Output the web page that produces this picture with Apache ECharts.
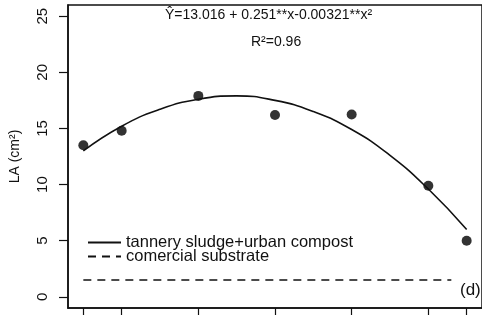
<!DOCTYPE html>
<html>
<head>
<meta charset="utf-8">
<script src="https://cdn.jsdelivr.net/npm/echarts@6/dist/echarts.min.js"></script>
<style>
  html, body { margin: 0; padding: 0; background: #fff; }
  #chart { width: 482px; height: 315px; }
</style>
</head>
<body>
<div id="chart"></div>
<script>
// observed leaf area per dose
const doses = [0, 10, 30, 50, 70, 90, 100];
const leafArea = [13.5, 14.8, 17.9, 16.2, 16.25, 9.9, 5.0];

// fitted curve
const curveX = [0, 10, 20, 30, 40, 50, 60, 70, 80, 90, 100];
const curveY = [13.0, 15.2, 16.7, 17.6, 17.9, 17.5, 16.5, 14.9, 12.6, 9.6, 6.0];

// commercial substrate reference level
const substrateX = [0, 96];
const substrateY = [1.5, 1.5];

const yTicks = [0, 5, 10, 15, 20, 25];

const font = '"Liberation Sans", Arial, sans-serif';
const chart = echarts.init(document.getElementById('chart'));

chart.setOption({
  animation: false,
  textStyle: { fontFamily: font },
  grid: {
    left: 65,
    right: -7,
    top: 5,
    bottom: 7,
    show: true,
    borderColor: '#111',
    borderWidth: 1.5,
  },
  legend: {
    data: ['tannery sludge+urban compost', 'comercial substrate'],
    orient: 'vertical',
    left: 82,
    top: 229,
    itemWidth: 33,
    itemHeight: 10,
    itemGap: -3,
    itemStyle: { opacity: 0 },
    textStyle: { fontFamily: font, fontSize: 16.5, color: '#111' },
  },
  xAxis: {
    type: 'value',
    min: -4,
    max: 104,
    axisLine: { show: true, onZero: false, lineStyle: { color: '#111', width: 1.5 } },
    splitLine: { show: false },
    axisTick: { show: true, length: 10, customValues: doses, lineStyle: { color: '#111', width: 1.2 } },
    axisLabel: { show: false },
  },
  yAxis: {
    type: 'value',
    min: -1,
    max: 26,
    name: 'LA (cm²)',
    nameLocation: 'middle',
    nameRotate: 90,
    nameGap: 46,
    nameTextStyle: { fontFamily: font, fontSize: 14, color: '#111' },
    axisLine: { show: true, onZero: false, lineStyle: { color: '#111', width: 1.5 } },
    splitLine: { show: false },
    axisTick: { show: true, length: 9, customValues: yTicks, lineStyle: { color: '#111', width: 1.2 } },
    axisLabel: {
      customValues: yTicks,
      rotate: 90,
      margin: 18,
      fontFamily: font,
      fontSize: 15,
      color: '#111',
    },
  },
  series: [
    {
      name: 'tannery sludge+urban compost',
      type: 'line',
      data: curveX.map((x, i) => [x, curveY[i]]),
      smooth: true,
      symbol: 'none',
      lineStyle: { color: '#111', width: 1.6 },
    },
    {
      name: 'comercial substrate',
      type: 'line',
      data: substrateX.map((x, i) => [x, substrateY[i]]),
      symbol: 'none',
      lineStyle: { color: '#111', width: 1.5, type: [8, 6] },
    },
    {
      name: 'observed',
      type: 'scatter',
      data: doses.map((x, i) => [x, leafArea[i]]),
      symbol: 'circle',
      symbolSize: 10,
      itemStyle: { color: '#000' },
    },
  ],
  graphic: [
    {
      type: 'text',
      left: 165,
      top: 8,
      style: { text: 'Ŷ=13.016 + 0.251**x-0.00321**x²', font: '14px ' + font, fill: '#111' },
    },
    {
      type: 'text',
      left: 251,
      top: 35,
      style: { text: 'R²=0.96', font: '14px ' + font, fill: '#111' },
    },
    {
      type: 'text',
      left: 460,
      top: 282,
      style: { text: '(d)', font: '17px ' + font, fill: '#111' },
    },
  ],
});
</script>
</body>
</html>
